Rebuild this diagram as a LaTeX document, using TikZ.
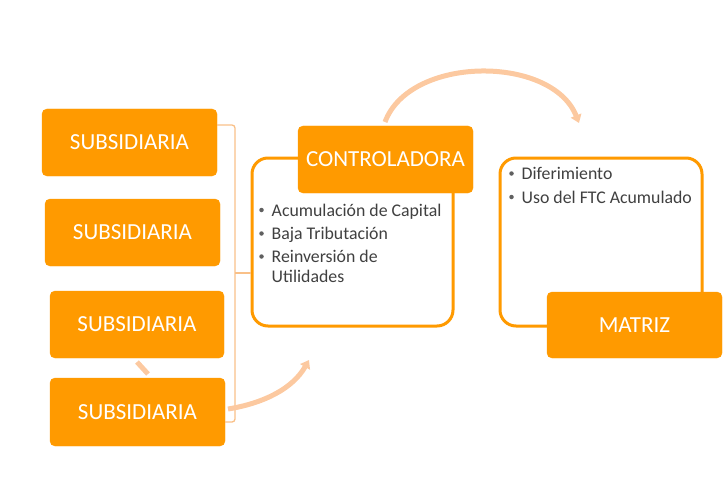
\documentclass[tikz,border=0pt]{standalone}
\usepackage{fontspec}
\setmainfont{Carlito}
\usetikzlibrary{arrows.meta}
\definecolor{orng}{HTML}{FF9A00}
\definecolor{peach}{HTML}{FCC9A0}
\definecolor{brk}{HTML}{F9C088}
\definecolor{txt}{HTML}{404040}
\definecolor{bul}{HTML}{606060}
\tikzset{
  obox/.style={fill=orng, draw=orng, rounded corners=5pt, text=white, inner sep=0pt,
    font=\fontsize{23}{27}\selectfont},
  subbox/.style={obox, minimum width=175pt, minimum height=67pt},
  outer/.style={draw=orng, line width=3pt, rounded corners=16pt, fill=white},
  bline/.style={anchor=base west, inner sep=0pt, text=txt, font=\fontsize{17.8}{21}\selectfont},
  bdot/.style={circle, fill=bul, inner sep=0pt, minimum size=4.5pt},
  flow/.style={draw=peach, line width=5pt, -{Triangle[length=8pt,width=11pt]}},
  bracket/.style={draw=brk, line width=1.3pt, rounded corners=3pt}
}
\begin{document}
\begin{tikzpicture}[x=1pt,y=-1pt]
\useasboundingbox (0,0) rectangle (728,484);
% hidden arc fragment between subsidiaries 3 and 4
\coordinate (fa) at (137,362);
\coordinate (fb) at (148,374);
\draw[peach, line width=5pt] (fa) -- (fb);
% outer boxes
\node[outer, minimum width=201pt, minimum height=168pt] (ctrlbox) at (352.5,242) {};
\node[outer, minimum width=202pt, minimum height=168pt] (matbox) at (601,242) {};
% subsidiary nodes
\node[subbox] (s1) at (129.5,142.5) {SUBSIDIARIA};
\node[subbox] (s2) at (132.5,232.5) {SUBSIDIARIA};
\node[subbox, minimum width=174pt] (s3) at (137,324.5) {SUBSIDIARIA};
\node[subbox, minimum height=68pt] (s4) at (137.5,412) {SUBSIDIARIA};
\node[subbox] (ctrl) at (385.5,159.5) {CONTROLADORA};
\node[subbox, minimum height=66pt] (mat) at (634.5,325) {MATRIZ};
% bracket
\coordinate (bt) at (235,125);
\coordinate (bm) at (235,273);
\coordinate (bb) at (235,422);
\draw[bracket] (s1.east |- bt) -- (bt) -- (bb) -- (s4.east |- bb);
\draw[bracket] (bm) -- (ctrlbox.west |- bm);
% bullets controladora
\node[bdot] (d1) at (261.5,210) {};
\node[bline] (t1) at (271.5,216) {Acumulación de Capital};
\node[bdot] (d2) at (261.5,233.5) {};
\node[bline] (t2) at (271.5,239.5) {Baja Tributación};
\node[bdot] (d3) at (261.5,256.5) {};
\node[bline] (t3) at (271.5,262.5) {Reinversión de};
\node[bline] (t4) at (271.5,282) {Utilidades};
% bullets matriz
\node[bdot] (d4) at (511.5,173.5) {};
\node[bline] (u1) at (521.5,179.5) {Diferimiento};
\node[bdot] (d5) at (511.5,197) {};
\node[bline] (u2) at (521.5,203) {Uso del FTC Acumulado};
% flow arrows
\coordinate (a1) at (385,122);
\coordinate (a2) at (579,123);
\draw[flow] (a1) .. controls (410,55) and (552,55) .. (a2);
\coordinate (b1) at (228,409);
\coordinate (b2) at (309,360);
\draw[flow] (b1) .. controls (265,403) and (293,388) .. (b2);
\end{tikzpicture}
\end{document}
